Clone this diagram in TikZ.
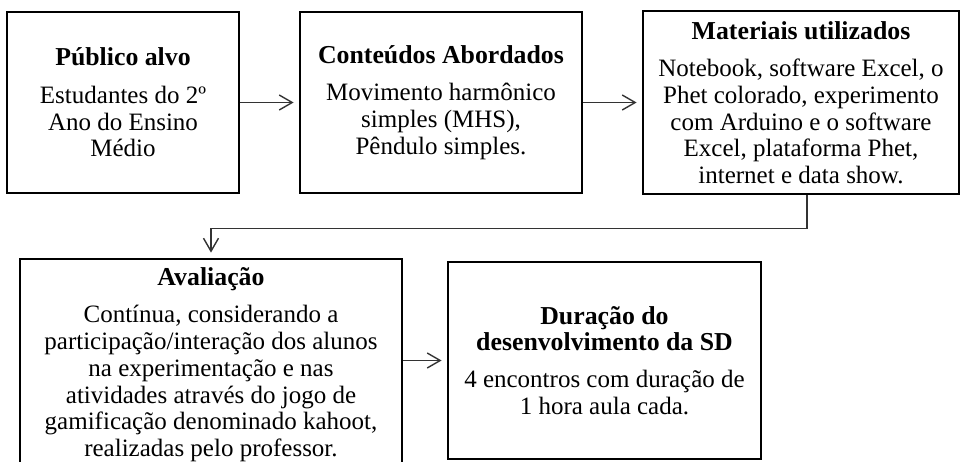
\documentclass[tikz,border=0pt]{standalone}
\usepackage{fontspec}
\setmainfont{Liberation Serif}
\usetikzlibrary{arrows.meta}

\newcommand{\titulo}[1]{{\fontsize{25.8}{26.7}\selectfont\bfseries #1}}

\tikzset{
  caixa/.style={draw, line width=2.8pt, align=center, inner sep=0pt,
    font=\fontsize{25}{26.7}\selectfont},
  seta/.style={draw=black!80, line width=1.4pt, shorten >=5pt,
    -{Straight Barb[length=13pt,width=15pt,line width=1.4pt]}}
}

\begin{document}
\begin{tikzpicture}[x=1pt,y=-1pt]
\useasboundingbox (0,0) rectangle (962,461);

% primeira linha
\node[caixa, minimum width=232pt, minimum height=181pt] (publico) at (123,102.5)
  {\titulo{Público alvo}\\[11pt] Estudantes do 2º\\ Ano do Ensino\\ Médio};
\node[caixa, minimum width=282pt, minimum height=181pt] (conteudos) at (441,102.5)
  {\titulo{Conteúdos Abordados}\\[11pt] Movimento harmônico\\ simples (MHS),\\ Pêndulo simples.};
\node[caixa, minimum width=316pt, minimum height=183pt] (materiais) at (801,102.5)
  {\titulo{Materiais utilizados}\\[11pt] Notebook, software Excel, o\\ Phet colorado, experimento\\
   com Arduino e o software\\ Excel, plataforma Phet,\\ internet e data show.};

% segunda linha
\node[caixa, minimum width=382pt, minimum height=211pt] (avaliacao) at (211,364.5)
  {\titulo{Avaliação}\\[11pt] Contínua, considerando a\\ participação/interação dos alunos\\
   na experimentação e nas\\ atividades através do jogo de\\ gamificação denominado kahoot,\\
   realizadas pelo professor.};
\node[caixa, minimum width=313pt, minimum height=197pt] (duracao) at (604.5,360.5)
  {\titulo{Duração do}\\ \titulo{desenvolvimento da SD}\\[10pt] 4 encontros com duração de\\ 1 hora aula cada.};

% setas
\draw[seta] (publico) -- (conteudos);
\draw[seta] (conteudos) -- (materiais);
\draw[seta] ([xshift=6pt]materiais.south) -- ++(0,33) -| (avaliacao.north);
\draw[seta] (avaliacao.east |- duracao) -- (duracao);

\end{tikzpicture}
\end{document}
